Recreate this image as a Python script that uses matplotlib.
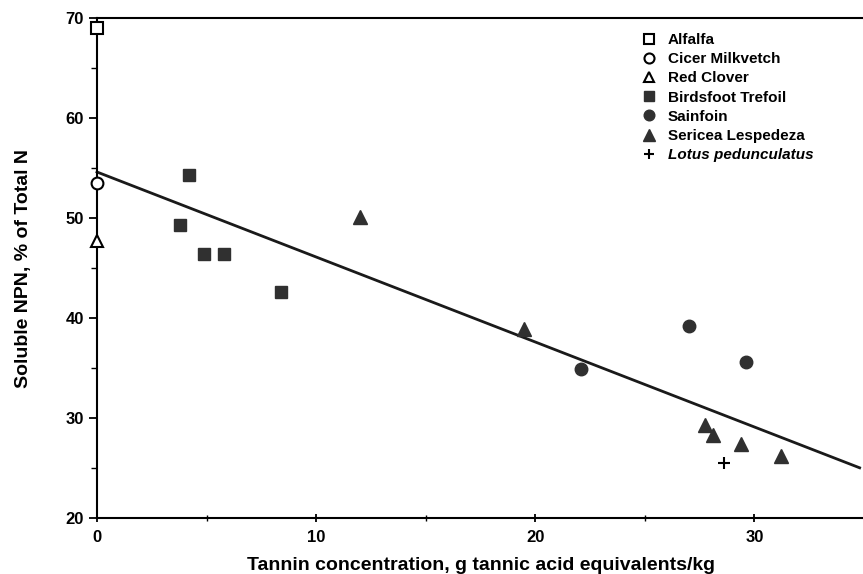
import matplotlib
matplotlib.use("Agg")
import matplotlib.pyplot as plt
import numpy as np

plt.rcParams['font.family'] = ['Liberation Sans', 'DejaVu Sans']

# Data
alfalfa_x = [0.0]; alfalfa_y = [69.0]
cicer_x = [0.0]; cicer_y = [53.5]
redclover_x = [0.0]; redclover_y = [47.7]
birdsfoot_x = [4.2, 3.8, 4.9, 5.8, 8.4]
birdsfoot_y = [54.3, 49.3, 46.4, 46.4, 42.6]
sainfoin_x = [22.1, 27.0, 29.6]
sainfoin_y = [34.9, 39.2, 35.6]
sericea_x = [12.0, 19.5, 27.75, 28.1, 29.4, 31.2]
sericea_y = [50.1, 38.9, 29.3, 28.3, 27.4, 26.2]
lotus_x = [28.6]; lotus_y = [25.5]

reg_intercept = 54.6
reg_slope = -0.85

xticks = [0, 10, 20, 30]
yticks = [20, 30, 40, 50, 60, 70]

fig = plt.figure(figsize=(8.63, 5.74), dpi=100)
ax = fig.add_axes([97/863, 1-518/574, 767/863, 500/574])
ax.set_xlim(0, 34.8)
ax.set_ylim(20, 70)

dark = '#303030'
xl = np.array(ax.get_xlim())
ax.plot(xl, reg_intercept + reg_slope*xl, color='#1a1a1a', lw=2.0, zorder=2, clip_on=False)

ms = 8.5
kw = dict(linestyle='none', clip_on=False, zorder=3)
ax.plot(alfalfa_x, alfalfa_y, marker='s', ms=ms, mfc='white', mec='black', mew=1.5, label='Alfalfa', **kw)
ax.plot(cicer_x, cicer_y, marker='o', ms=ms, mfc='white', mec='black', mew=1.5, label='Cicer Milkvetch', **kw)
ax.plot(redclover_x, redclover_y, marker='^', ms=ms, mfc='white', mec='black', mew=1.5, label='Red Clover', **kw)
ax.plot(birdsfoot_x, birdsfoot_y, marker='s', ms=ms, mfc=dark, mec=dark, label='Birdsfoot Trefoil', **kw)
ax.plot(sainfoin_x, sainfoin_y, marker='o', ms=ms+0.5, mfc=dark, mec=dark, label='Sainfoin', **kw)
ax.plot(sericea_x, sericea_y, marker='^', ms=ms+1, mfc=dark, mec=dark, label='Sericea Lespedeza', **kw)
ax.plot(lotus_x, lotus_y, marker='+', ms=ms, mec='black', mew=1.5, label='Lotus pedunculatus', **kw)

ax.spines['right'].set_visible(False)
for s in ['left', 'bottom', 'top']:
    ax.spines[s].set_linewidth(1.5)

ax.set_xticks(xticks)
ax.set_xticks([5, 15, 25, 35], minor=True)
ax.set_yticks(yticks)
ax.set_yticks([25, 35, 45, 55, 65], minor=True)
ax.tick_params(axis='both', which='major', length=6, width=1.3, labelsize=12, direction='out')
ax.tick_params(axis='both', which='minor', length=4, width=1.0, direction='out')
ax.tick_params(axis='x', which='both', direction='inout')
ax.tick_params(axis='x', pad=6)
for lab in ax.get_xticklabels() + ax.get_yticklabels():
    lab.set_fontweight('bold')

ax.set_xlabel('Tannin concentration, g tannic acid equivalents/kg', fontsize=14, fontweight='bold', labelpad=8)
ax.set_ylabel('Soluble NPN, % of Total N', fontsize=14, fontweight='bold', labelpad=24)

leg = ax.legend(loc='upper left', bbox_to_anchor=(641/863, 1-33/574), bbox_transform=fig.transFigure,
                frameon=False, fontsize=11, handlelength=1.0, handletextpad=0.75,
                labelspacing=0.34, borderpad=0, borderaxespad=0, markerscale=0.85)
for t in leg.get_texts():
    t.set_fontweight('bold')
leg.get_texts()[-1].set_fontstyle('italic')

fig.savefig('out.png', dpi=100)
